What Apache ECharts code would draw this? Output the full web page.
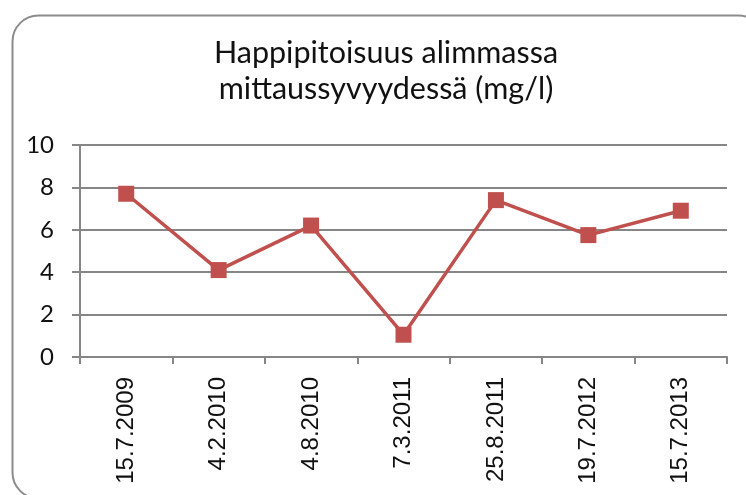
<!DOCTYPE html>
<html>
<head>
<meta charset="utf-8">
<script src="https://cdn.jsdelivr.net/npm/echarts@6/dist/echarts.min.js"></script>
<style>
  html, body { margin: 0; padding: 0; background: #fff; }
  #chart { width: 746px; height: 495px; }
</style>
</head>
<body>
<div id="chart"></div>
<script>
// mittauspäivät ja happipitoisuus (mg/l)
var dates = ['15.7.2009', '4.2.2010', '4.8.2010', '7.3.2011', '25.8.2011', '19.7.2012', '15.7.2013'];
var oxygen = [7.7, 4.1, 6.2, 1.05, 7.4, 5.75, 6.9];
var yTicks = [0, 2, 4, 6, 8, 10];

var chart = echarts.init(document.getElementById('chart'));

chart.setOption({
  animation: false,
  backgroundColor: '#fff',
  graphic: [{
    type: 'rect',
    left: 10, top: 13,
    shape: { width: 752, height: 483, r: 26 },
    style: { fill: 'none', stroke: '#8c8c8c', lineWidth: 2 },
    silent: true
  }],
  title: {
    text: 'Happipitoisuus alimmassa\nmittaussyvyydessä (mg/l)',
    left: 381,
    top: 30,
    textAlign: 'center',
    textStyle: {
      fontFamily: 'Lato',
      fontWeight: 'normal',
      fontSize: 30.5,
      lineHeight: 36,
      color: '#111'
    }
  },
  grid: { left: 80, right: 19, top: 145, bottom: 138 },
  xAxis: {
    type: 'category',
    data: dates,
    boundaryGap: true,
    axisLine: { lineStyle: { color: '#868686', width: 2 } },
    axisTick: { show: true, length: 7, lineStyle: { color: '#868686', width: 2 } },
    axisLabel: {
      rotate: 90,
      margin: 20,
      fontFamily: 'Liberation Sans',
      fontSize: 24,
      color: '#111'
    }
  },
  yAxis: {
    type: 'value',
    min: yTicks[0],
    max: yTicks[yTicks.length - 1],
    interval: 2,
    axisLine: { show: true, lineStyle: { color: '#868686', width: 2 } },
    axisTick: { show: true, length: 8, lineStyle: { color: '#868686', width: 2 } },
    splitLine: { lineStyle: { color: '#868686', width: 2 } },
    axisLabel: {
      margin: 26,
      fontFamily: 'Lato',
      fontSize: 24,
      color: '#111'
    }
  },
  series: [{
    type: 'line',
    data: oxygen,
    symbol: 'rect',
    symbolSize: 16,
    lineStyle: { color: '#C0504D', width: 3.5 },
    itemStyle: { color: '#C0504D' }
  }]
});
</script>
</body>
</html>
